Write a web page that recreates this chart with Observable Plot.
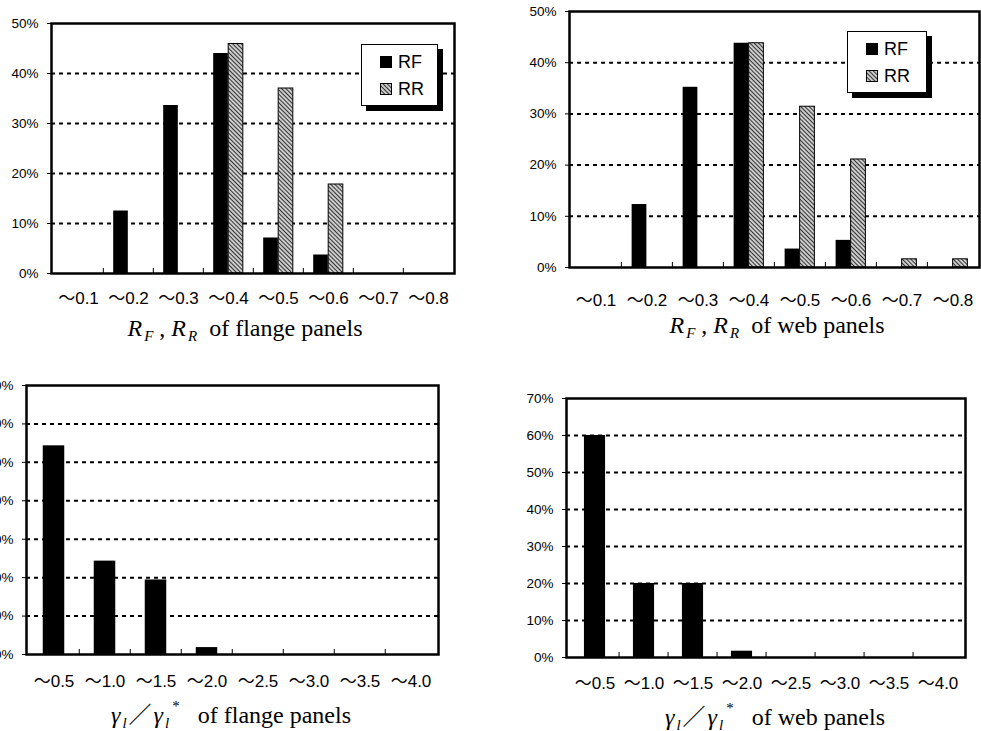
<!DOCTYPE html>
<html><head><meta charset="utf-8">
<script src="https://cdn.jsdelivr.net/npm/d3@7"></script>
<script src="https://cdn.jsdelivr.net/npm/@observablehq/plot@0.6"></script>
<style>
html,body{margin:0;padding:0;background:#fff;}
body{width:981px;height:731px;position:relative;overflow:hidden;}
.panel{position:absolute;}
.panel svg{display:block;}
.title{position:absolute;font-family:"Liberation Serif","Times New Roman","DejaVu Serif",serif;font-size:24px;white-space:nowrap;transform:translate(-50%,-50%);line-height:1;color:#000;}
.sb{font-size:15px;position:relative;top:5px;margin-left:2px;font-style:italic;}
.sp{font-size:15px;position:relative;top:-12px;margin-left:3px;}
.sl{font-family:"Noto Sans CJK JP",sans-serif;font-size:23px;margin:0 2px;}
.legend{position:absolute;background:#fff;border:1px solid #000;box-shadow:5px 5px 0 #000;font-family:"Liberation Sans",Arial,sans-serif;font-size:18px;}
.legend .it{position:absolute;left:18px;display:flex;align-items:center;height:20px;}
.legend .sw{width:12px;height:12px;margin-right:6px;box-sizing:border-box;}
</style></head><body>
<svg width="0" height="0" style="position:absolute">
  <defs>
    <pattern id="hatch" width="3" height="3" patternUnits="userSpaceOnUse" patternTransform="rotate(-45)">
      <rect width="3" height="3" fill="#fff"/>
      <line x1="1.5" y1="0" x2="1.5" y2="3" stroke="#333" stroke-width="1.5"/>
    </pattern>
  </defs>
</svg>
<script>
// ---- data ----
const rCats = ["～0.1","～0.2","～0.3","～0.4","～0.5","～0.6","～0.7","～0.8"];
const gCats = ["～0.5","～1.0","～1.5","～2.0","～2.5","～3.0","～3.5","～4.0"];
const flangeRF = [0, 12.5, 33.6, 44.0, 7.1, 3.7, 0, 0];
const flangeRR = [0, 0, 0, 45.9, 37.0, 17.8, 0, 0];
const webRF = [0, 12.3, 35.2, 43.8, 3.6, 5.3, 0, 0];
const webRR = [0, 0, 0, 43.8, 31.4, 21.1, 1.6, 1.6];
const flangeGamma = [54.3, 24.3, 19.4, 1.8, 0, 0, 0, 0];
const webGamma = [60.0, 20.0, 20.0, 1.7, 0, 0, 0, 0];
const yTicks50 = [0, 10, 20, 30, 40, 50];
const yTicks70 = [0, 10, 20, 30, 40, 50, 60, 70];
const seriesNames = ["RF", "RR"];

const sansFont = "'Liberation Sans', Arial, 'Noto Sans CJK JP', sans-serif";

function panel(o) {
  const bw = (o.width - o.ml - o.mr) / o.cats.length;
  const yMax = o.yTicks[o.yTicks.length - 1];
  const marks = [];
  marks.push(Plot.ruleY(o.yTicks.filter(t => t > 0 && t < yMax), {
    stroke: "black", strokeWidth: 2, strokeDasharray: "4,4"
  }));
  o.series.forEach((s, i) => {
    const data = o.cats.map((c, j) => ({c, v: s.values[j], name: s.name})).filter(d => d.v > 0);
    let il, ir;
    if (o.series.length === 2) {
      if (i === 0) { il = bw / 2 - o.barW; ir = bw / 2; }
      else { il = bw / 2; ir = bw / 2 - o.barW; }
    } else { il = ir = (bw - o.barW) / 2; }
    marks.push(Plot.barY(data, {
      x: "c", y: "v", fill: s.fill, stroke: "black", strokeWidth: s.hatched ? 1 : 0,
      insetLeft: il, insetRight: ir
    }));
  });
  marks.push(Plot.ruleX(o.cats.slice(1), {
    x: d => d, y1: 0, y2: 0, insetTop: -5, dx: -bw / 2, stroke: "black", strokeWidth: 1
  }));
  marks.push(Plot.frame({stroke: "black", strokeWidth: 2.5}));
  marks.push(Plot.axisY({
    ticks: o.yTicks, tickFormat: d => d + "%", tickSize: 4, tickPadding: 9,
    fontSize: 13.5, fontFamily: sansFont, label: null
  }));
  marks.push(Plot.axisX({
    tickSize: 0, tickPadding: o.tp, fontSize: 17, fontFamily: sansFont, label: null
  }));
  const svg = Plot.plot({
    width: o.width, height: o.height,
    marginLeft: o.ml, marginRight: o.mr, marginTop: o.mt, marginBottom: o.mb,
    x: {domain: o.cats, padding: 0, type: "band"},
    y: {domain: [0, yMax]},
    style: {background: "transparent", color: "black", overflow: "visible"},
    marks
  });
  const div = document.createElement("div");
  div.className = "panel";
  div.style.left = o.left + "px";
  div.style.top = o.top + "px";
  div.appendChild(svg);
  document.body.appendChild(div);
}

panel({cats: rCats, yTicks: yTicks50, left: 0, top: 0, width: 470, height: 320,
  ml: 51, mr: 16, mt: 23, mb: 47, barW: 15, tp: 18,
  series: [{name: seriesNames[0], values: flangeRF, fill: "black"},
           {name: seriesNames[1], values: flangeRR, fill: "url(#hatch)", hatched: true}]});

panel({cats: rCats, yTicks: yTicks50, left: 518, top: 0, width: 463, height: 320,
  ml: 51, mr: 2, mt: 11, mb: 53, barW: 15, tp: 26,
  series: [{name: seriesNames[0], values: webRF, fill: "black"},
           {name: seriesNames[1], values: webRR, fill: "url(#hatch)", hatched: true}]});

panel({cats: gCats, yTicks: yTicks70, left: -25, top: 360, width: 479, height: 340,
  ml: 51, mr: 16, mt: 25, mb: 46, barW: 22, tp: 20,
  series: [{name: "γ", values: flangeGamma, fill: "black"}]});

panel({cats: gCats, yTicks: yTicks70, left: 515, top: 360, width: 466, height: 340,
  ml: 51, mr: 16, mt: 38, mb: 43, barW: 22, tp: 19,
  series: [{name: "γ", values: webGamma, fill: "black"}]});

// legends
function legend(left, top, w, h) {
  const d = document.createElement("div");
  d.className = "legend";
  Object.assign(d.style, {left: left + "px", top: top + "px", width: w + "px", height: h + "px"});
  d.innerHTML =
    `<div class="it" style="top:7px"><div class="sw" style="background:#000"></div>${seriesNames[0]}</div>` +
    `<div class="it" style="top:34px"><svg class="sw" width="12" height="12" style="display:block"><rect x="0.5" y="0.5" width="11" height="11" fill="url(#hatch)" stroke="#000"/></svg>${seriesNames[1]}</div>`;
  document.body.appendChild(d);
}
legend(361, 44, 75, 60);
legend(847, 31, 78, 60);

// axis titles
function title(x, y, html) {
  const d = document.createElement("div");
  d.className = "title";
  d.style.left = x + "px"; d.style.top = y + "px";
  d.innerHTML = html;
  document.body.appendChild(d);
}
const rTitle = w => `<i>R</i><span class="sb">F</span> , <i>R</i><span class="sb">R</span>&nbsp; of ${w} panels`;
const gTitle = w => `<i>γ</i><span class="sb">l</span><span class="sl">／</span><i>γ</i><span class="sb">l</span><span class="sp">*</span>&nbsp;&nbsp; of ${w} panels`;
title(245, 328, rTitle("flange"));
title(777, 325, rTitle("web"));
title(231, 714, gTitle("flange"));
title(775, 716, gTitle("web"));
</script>
</body></html>
